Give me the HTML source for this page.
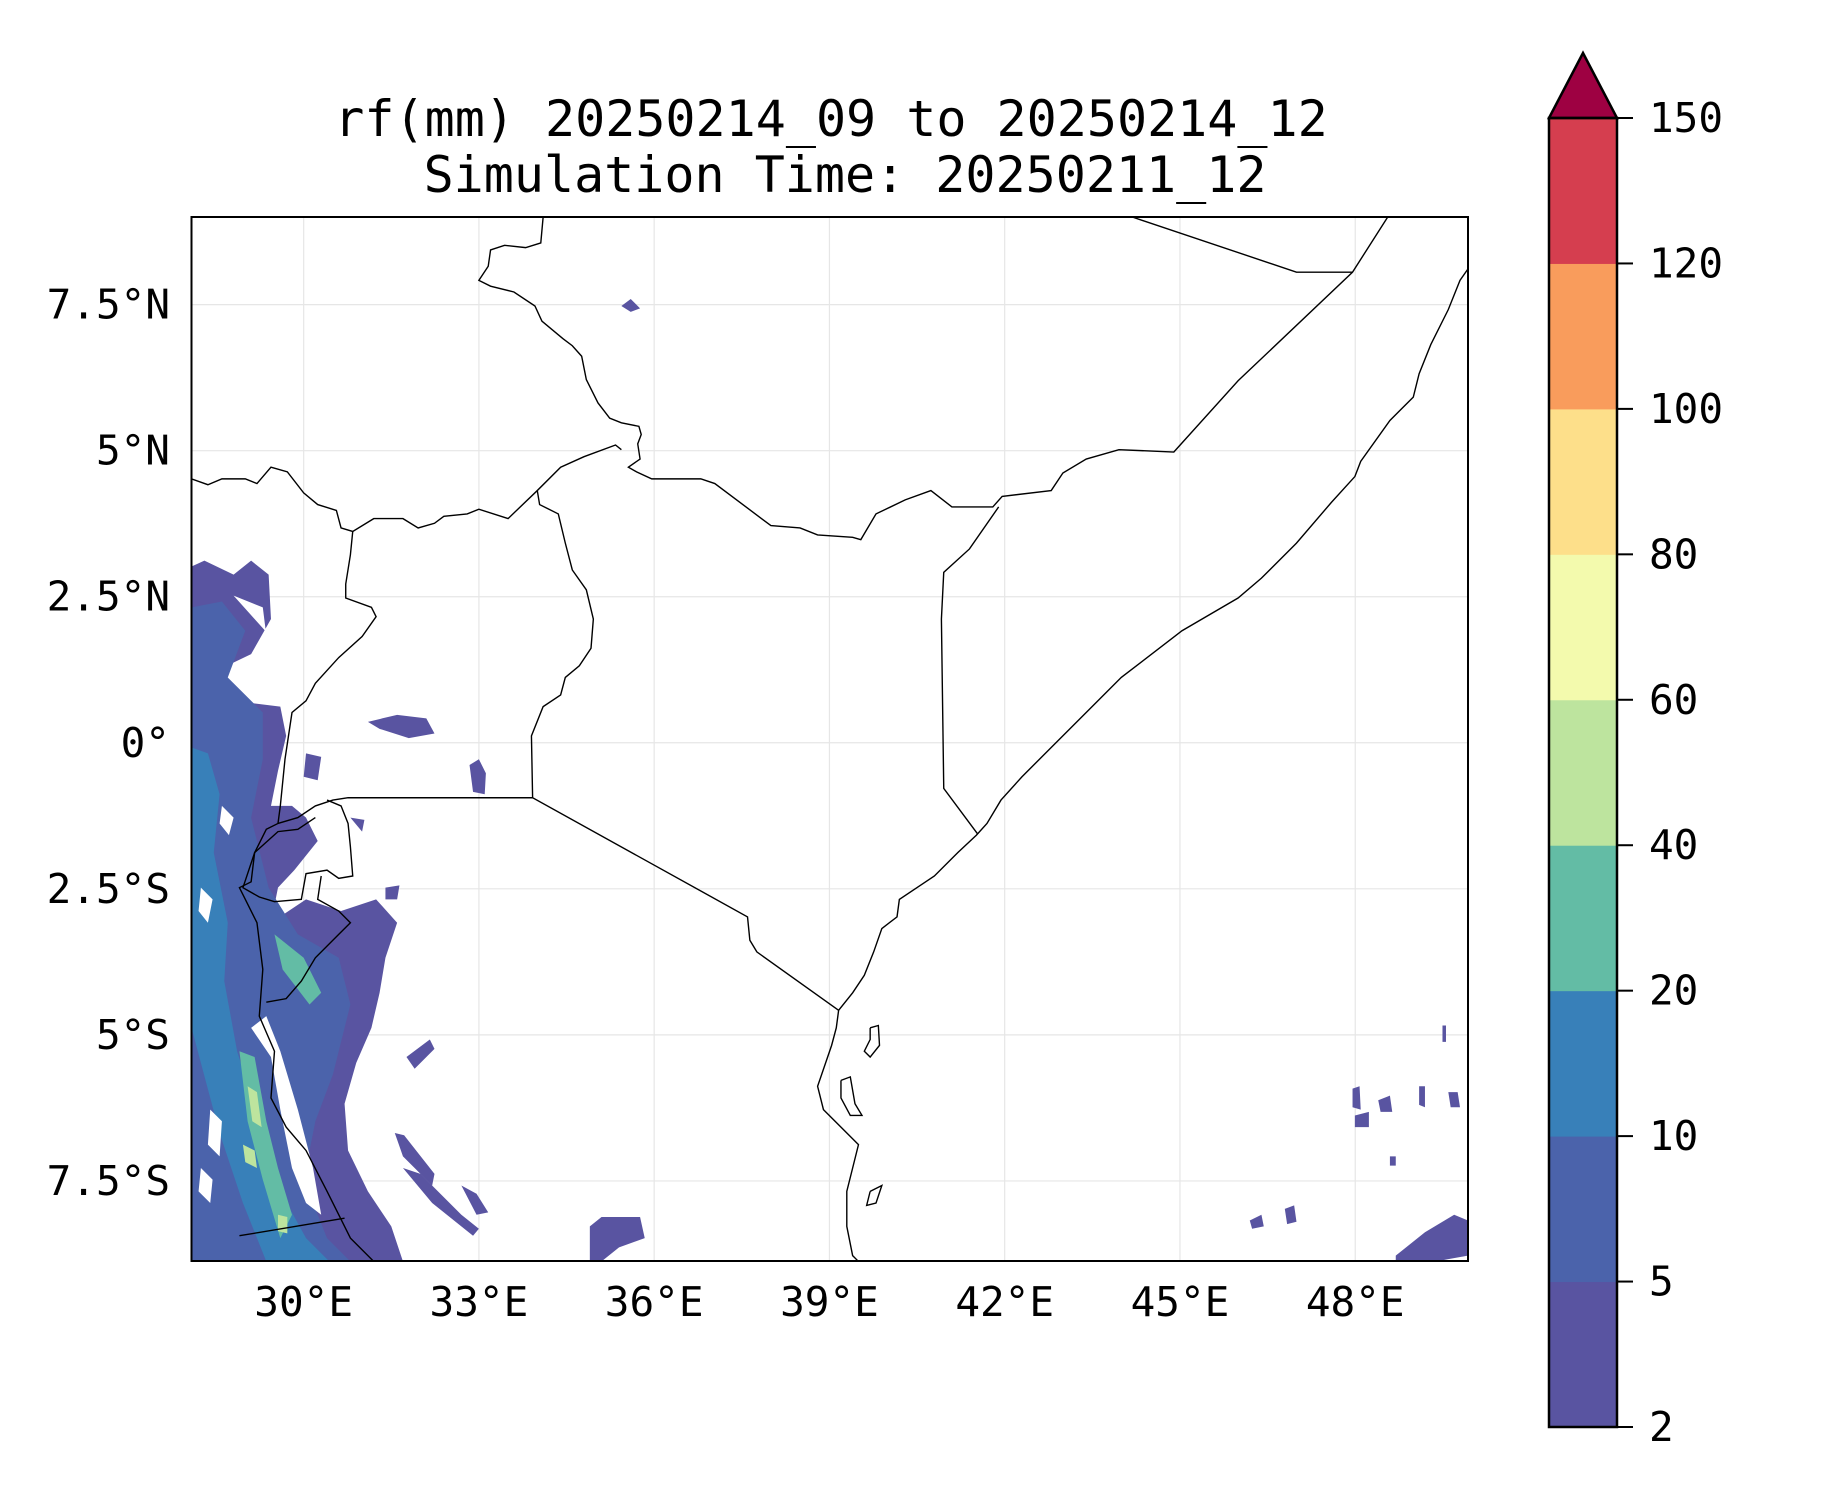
<!DOCTYPE html>
<html><head><meta charset="utf-8"><style>
html,body{margin:0;padding:0;background:#fff}
svg{display:block}
text{font-family:"DejaVu Sans Mono","Liberation Mono",monospace;fill:#000}
</style></head><body>
<svg id="fig" width="1833" height="1500" viewBox="0 0 1833 1500" xmlns="http://www.w3.org/2000/svg">
<text x="831" y="136" font-size="50" text-anchor="middle">rf(mm) 20250214_09 to 20250214_12</text>
<text x="845" y="192" font-size="50" text-anchor="middle">Simulation Time: 20250211_12</text>
<defs><clipPath id="mapclip"><rect x="191.5" y="217" width="1276.5" height="1044"/></clipPath></defs>
<g id="grid"></g>
<g clip-path="url(#mapclip)">
<g transform="scale(1.168)">
<path fill="#5954a1" d="M164,485 L175,480 L200,492 L215,480 L230,492 L232,530 L215,560 L190,572 L200,600 L240,605 L245,630 L238,660 L232,690 L250,690 L262,700 L272,720 L252,745 L238,760 L232,790 L262,770 L292,780 L322,770 L340,790 L330,820 L325,850 L318,880 L305,910 L295,945 L298,985 L315,1020 L335,1050 L345,1080 L164,1080 Z"/>
<path fill="#4b63ab" d="M164,520 L190,515 L210,540 L195,580 L225,610 L225,650 L215,700 L230,760 L255,800 L290,820 L300,860 L285,920 L270,960 L260,1010 L280,1060 L300,1080 L164,1080 Z"/>
<path fill="#3880b9" d="M164,640 L178,645 L188,680 L183,730 L195,790 L192,840 L203,900 L222,960 L240,1020 L262,1060 L282,1080 L228,1080 L208,1030 L188,970 L172,910 L164,880 Z"/>
<path fill="#63bca5" d="M205,900 L218,905 L228,960 L238,1000 L250,1040 L240,1060 L225,1010 L212,960 Z M235,800 L260,820 L275,850 L265,860 L242,830 Z"/>
<path fill="#bde49e" d="M212,930 L220,935 L224,965 L216,960 Z M208,980 L218,985 L220,1000 L210,995 Z M238,1040 L246,1042 L246,1056 L238,1054 Z"/>
<path fill="#fff" d="M200,510 L225,520 L230,560 L215,575 L240,595 L245,560 Z M215,880 L232,905 L240,950 L250,1000 L262,1030 L275,1040 L268,1000 L255,950 L240,900 L228,870 Z M180,950 L190,960 L188,990 L178,980 Z M172,760 L182,770 L178,790 L170,780 Z M190,690 L200,700 L196,715 L188,705 Z M172,1000 L182,1010 L180,1030 L170,1020 Z"/>
<path fill="#5954a1" d="M532,262 L540,256 L548,264 L540,267 Z M315,618 L340,612 L365,615 L372,628 L350,632 L325,624 Z M402,655 L410,650 L416,662 L415,680 L405,678 Z M262,645 L275,648 L272,668 L260,665 Z M338,970 L346,972 L372,1005 L370,1015 L345,990 Z M345,1000 L360,1005 L395,1040 L410,1052 L405,1058 L370,1030 Z M395,1015 L408,1022 L418,1038 L408,1040 Z M505,1050 L515,1042 L548,1042 L552,1060 L530,1068 L515,1080 L505,1080 Z M1195,1075 L1220,1055 L1245,1040 L1257,1045 L1257,1075 L1240,1078 L1230,1080 L1195,1080 Z M1070,1045 L1080,1040 L1082,1050 L1072,1052 Z M1100,1035 L1108,1032 L1110,1046 L1102,1048 Z M1158,932 L1164,930 L1165,950 L1158,948 Z M1180,942 L1190,938 L1192,952 L1182,952 Z M1215,930 L1220,930 L1220,948 L1215,946 Z M1240,935 L1248,935 L1250,948 L1242,948 Z M1160,955 L1172,952 L1172,965 L1160,965 Z M1190,990 L1195,990 L1195,998 L1190,998 Z M1235,878 L1238,878 L1238,892 L1235,892 Z M348,905 L368,890 L372,898 L355,915 Z M300,700 L312,702 L310,712 Z M330,760 L342,758 L340,770 L330,770 Z"/>
</g>
<g transform="scale(1.168)" fill="none" stroke="#000">
<polyline vector-effect="non-scaling-stroke" stroke-width="1.4" points="465,186 463,208 450,212 432,210 420,214 418,228 410,240 420,245 440,250 458,262 464,275 482,290 490,296 498,305 502,325 512,345 522,358 532,362 547,365 549,372 546,380 548,393 538,400 545,404 558,410 600,410 612,414 660,450 685,452 700,458 730,460 737,462 750,440 775,428 797,420 815,434 850,434 858,425 900,420 910,405 930,393 958,385 1005,387 1060,326 1158,233 1188,186"/>
<polyline vector-effect="non-scaling-stroke" stroke-width="1.4" points="164,410 178,415 190,410 210,410 220,414 232,400 246,404 260,422 272,432 288,437 292,452 302,455 320,444 345,444 358,452 372,448 380,442 400,440 410,436 435,444 460,420 480,400 500,391 527,381 532,385"/>
<polyline vector-effect="non-scaling-stroke" stroke-width="1.4" points="460,420 462,432 478,440 484,465 490,488 502,505 508,530 506,555 496,570 484,580 480,595 465,605 455,630 456,683 640,785 642,805 648,815 718,865"/>
<polyline vector-effect="non-scaling-stroke" stroke-width="1.4" points="302,455 300,475 296,500 296,512 318,520 322,528 310,545 290,563 270,585 262,600 250,610 244,650 240,690 238,705 228,710 218,730 215,755 205,760 210,770 220,790 225,830 222,870 235,900 232,940 245,965 262,985 280,1020 300,1060 320,1080"/>
<polyline vector-effect="non-scaling-stroke" stroke-width="1.4" points="238,705 255,700 270,690 285,685 298,683 456,683"/>
<polyline vector-effect="non-scaling-stroke" stroke-width="1.4" points="280,685 292,690 298,705 300,725 302,750 290,752 280,745 262,748 258,770 235,772 222,768 208,760 218,730 238,712 255,710 270,700"/>
<polyline vector-effect="non-scaling-stroke" stroke-width="1.4" points="275,750 272,770 290,780 300,790 290,800 270,820 258,840 245,855 228,858"/>
<polyline vector-effect="non-scaling-stroke" stroke-width="1.4" points="205,1058 295,1043"/>
<polyline vector-effect="non-scaling-stroke" stroke-width="1.4" points="855,434 830,470 808,490 806,530 808,675 837,714"/>
<polyline vector-effect="non-scaling-stroke" stroke-width="1.4" points="970,186 1110,233 1158,233"/>
<polyline vector-effect="non-scaling-stroke" stroke-width="1.4" points="1257,230 1250,240 1240,265 1225,295 1215,320 1210,340 1190,360 1165,395 1160,408 1140,430 1110,465 1080,495 1060,512 1012,540 960,580 935,605 900,640 875,665 857,685 845,705 836,715 820,730 800,750 785,760 770,770 768,785 755,795 748,815 740,835 730,850 718,865 716,880 712,895 700,930 705,950 720,965 735,980 730,1000 725,1020 725,1050 730,1075 735,1080"/>
<polyline vector-effect="non-scaling-stroke" stroke-width="1.4" points="745,880 752,878 753,895 745,905 740,900 745,890 745,880"/>
<polyline vector-effect="non-scaling-stroke" stroke-width="1.4" points="720,925 728,922 732,945 738,955 728,955 720,940 720,925"/>
<polyline vector-effect="non-scaling-stroke" stroke-width="1.4" points="745,1020 755,1015 750,1030 742,1032 745,1020"/>
</g>
</g>
<rect x="191.5" y="217" width="1276.5" height="1044" fill="none" stroke="#000" stroke-width="2"/>
<g id="xlabels"></g>
<g id="ylabels"></g>
<g id="cbar"></g>
<script>
const lonTicks=[30,33,36,39,42,45,48];
const lonLabels=["30°E","33°E","36°E","39°E","42°E","45°E","48°E"];
const latTicks=[7.5,5,2.5,0,-2.5,-5,-7.5];
const latLabels=["7.5°N","5°N","2.5°N","0°","2.5°S","5°S","7.5°S"];
const cbLevels=[2,5,10,20,40,60,80,100,120,150];
const cbColors=["#5954a1","#4b63ab","#3880b9","#63bca5","#bde49e","#f3faad","#fddf8a","#f99c5c","#d53e4f"];
const extendColor="#9e0142";
const NS="http://www.w3.org/2000/svg";
const PX=58.42, LON0=28.08, LAT0=9, X0=191.5, Y0=217;
function xOf(lon){return X0+(lon-LON0)*PX;}
function yOf(lat){return Y0+(LAT0-lat)*PX;}
function mk(tag,attrs,parent){const e=document.createElementNS(NS,tag);for(const k in attrs)e.setAttribute(k,attrs[k]);parent.appendChild(e);return e;}
const grid=document.getElementById('grid');
lonTicks.forEach((v,i)=>{
 const l=mk('line',{x1:xOf(v),x2:xOf(v),y1:217,y2:1261,stroke:'#e6e6e6','stroke-width':1.2},grid);
 
 
 const t=mk('text',{x:xOf(v),y:1316,'font-size':41,'text-anchor':'middle'},document.getElementById('xlabels'));
 t.textContent=lonLabels[i];
 
 
});
latTicks.forEach((v,i)=>{
 const l=mk('line',{x1:191.5,x2:1468,y1:yOf(v),y2:yOf(v),stroke:'#e6e6e6','stroke-width':1.2},grid);
 
 
 const t=mk('text',{x:170,y:yOf(v)+14,'font-size':41,'text-anchor':'end'},document.getElementById('ylabels'));
 t.textContent=latLabels[i];
 
 
});
const cb=document.getElementById('cbar');
const CBL=1549,CBR=1617,CBT=118,CBB=1427,n=cbLevels.length-1,seg=(CBB-CBT)/n;
function cbY(i){return CBB-i*seg;}
cbColors.forEach((c,i)=>{
 const r=mk('rect',{x:CBL,y:cbY(i+1),width:CBR-CBL,height:seg+0.5,fill:c},cb);
 
 
});
const tri=mk('polygon',{points:`${CBL},${CBT} ${(CBL+CBR)/2},53 ${CBR},${CBT}`,fill:extendColor,stroke:'#000','stroke-width':2.5},cb);


const fr=mk('rect',{x:CBL,y:CBT,width:CBR-CBL,height:CBB-CBT,fill:'none',stroke:'#000','stroke-width':2.5},cb);


cbLevels.forEach((v,i)=>{
 const tk=mk('line',{x1:CBR,x2:CBR+16,y1:cbY(i),y2:cbY(i),stroke:'#000','stroke-width':2},cb);
 
 
 const t=mk('text',{x:CBR+32,y:cbY(i)+14,'font-size':41},cb);
 t.textContent=String(v);
 
 
});
</script>
</svg>
</body></html>
